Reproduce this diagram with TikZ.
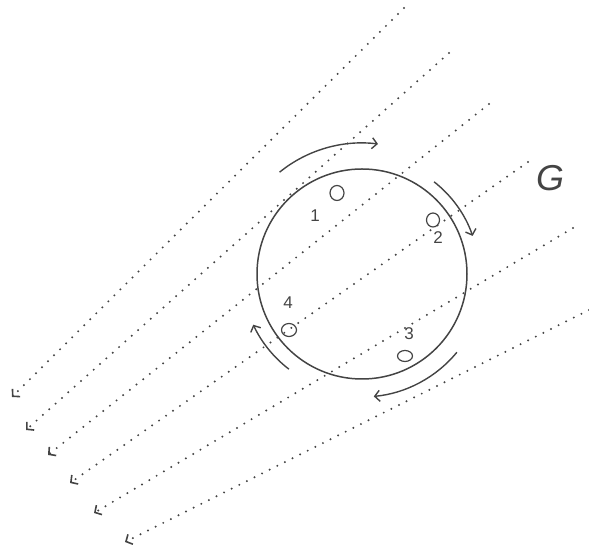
\documentclass[tikz,border=0pt]{standalone}
\usepackage{fontspec}
\setmainfont{Liberation Sans}
\usepackage{xcolor}
\usepackage{tikz}
\usetikzlibrary{arrows.meta,shapes.geometric}
\definecolor{ink}{HTML}{444444}

\begin{document}
\begin{tikzpicture}[x=1pt, y=1pt, color=ink, line width=1.3pt,
  ray/.style={draw=ink, line width=2.2pt, line cap=round, dash pattern=on 0pt off 8.5pt, -{Straight Barb[length=5pt,width=11pt,line width=1.6pt]}},
  turn/.style={line width=1.4pt, -{Straight Barb[length=5pt,width=11pt]}},
  spot/.style={draw, ellipse, inner sep=0pt, line width=1.2pt},
  tag/.style={inner sep=0pt, font=\fontsize{17}{17}\selectfont}]
\useasboundingbox (0,0) rectangle (589,548);
\node[draw, circle, minimum size=210pt, inner sep=0pt, line width=1.5pt] (disc) at (362,274) {};
\node[spot, minimum width=14pt, minimum height=15pt] (p1) at (337,355) {};
\node[spot, minimum width=13pt, minimum height=14pt] (p2) at (433,328) {};
\node[spot, minimum width=15pt, minimum height=11pt] (p3) at (405,192) {};
\node[spot, minimum width=15pt, minimum height=13pt] (p4) at (289,218) {};
\node[tag] (l1) at (315,332) {1};
\node[tag] (l2) at (438,310) {2};
\node[tag] (l3) at (409,214) {3};
\node[tag] (l4) at (288,245) {4};
\node[inner sep=0pt, font=\fontsize{36}{36}\selectfont\itshape] (g) at (550,370) {G};
% incoming rays
\coordinate (r1a) at (404,540); \coordinate (r1b) at (12,151);
\coordinate (r2a) at (449,495); \coordinate (r2b) at (26,118);
\coordinate (r3a) at (489,444); \coordinate (r3b) at (48,93);
\coordinate (r4a) at (528,386); \coordinate (r4b) at (70,65);
\coordinate (r5a) at (573,320); \coordinate (r5b) at (94,35);
\coordinate (r6a) at (589,238); \coordinate (r6b) at (125,6);
\draw[ray] (r1a)--(r1b); \draw[ray] (r2a)--(r2b); \draw[ray] (r3a)--(r3b);
\draw[ray] (r4a)--(r4b); \draw[ray] (r5a)--(r5b); \draw[ray] (r6a)--(r6b);
% rotation
\draw[turn] (disc.center) ++(129:131) arc[start angle=129, end angle=83, radius=131];
\draw[turn] (disc.center) ++(52:117) arc[start angle=52, end angle=19, radius=117];
\draw[turn] (disc.center) ++(-39.5:123) arc[start angle=-39.5, end angle=-84.5, radius=123];
\draw[turn] (disc.center) ++(232.5:120) arc[start angle=232.5, end angle=205, radius=120];
\end{tikzpicture}
\end{document}
